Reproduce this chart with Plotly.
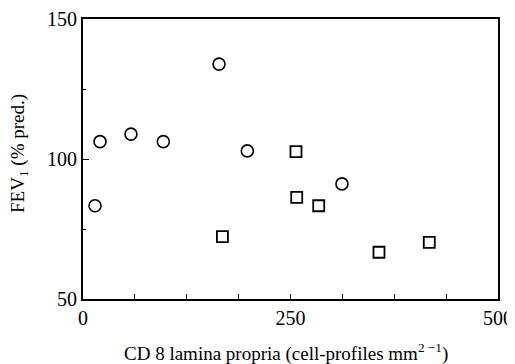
import plotly.graph_objects as go

circle_x = [14.5, 20.5, 57.8, 96.8, 163.9, 198, 312]
circle_y = [83.3, 106.2, 108.9, 106.2, 133.9, 102.9, 91.1]
square_x = [168, 256.6, 257.5, 284, 356.6, 417.2]
square_y = [72.3, 102.6, 86.3, 83.3, 66.7, 70.2]

x_ticks = [0, 250, 500]
y_ticks = [50, 100, 150]

x_title = "CD 8 lamina propria (cell-profiles mm<sup>2 −1</sup>)"
y_title = "FEV<sub>1</sub> (% pred.)"

fig = go.Figure()
fig.add_trace(go.Scatter(x=circle_x, y=circle_y, mode="markers",
                         marker=dict(symbol="circle-open", size=12, color="black",
                                     line=dict(width=1.6, color="black")),
                         showlegend=False, cliponaxis=False))
fig.add_trace(go.Scatter(x=square_x, y=square_y, mode="markers",
                         marker=dict(symbol="square-open", size=11, color="black",
                                     line=dict(width=1.8, color="black")),
                         showlegend=False, cliponaxis=False))

font = dict(family="Liberation Serif, Times New Roman, serif", color="black")

# page body has an 8px margin; compensate so the plot lands where the reference has it
OFF = 8
W, H = 515, 364 - OFF
L, T = 83 - OFF, 19 - OFF
R = W - L - (498 - 83)
B = H - T - (299 - 19)
pw, ph = W - L - R, H - T - B

def px_x(x):
    return (x - OFF - L) / pw

def px_y(y):
    return 1 - (y - OFF - T) / ph

fig.update_layout(
    width=W, height=H,
    margin=dict(l=L, r=R, t=T, b=B, autoexpand=False),
    paper_bgcolor="white", plot_bgcolor="white",
    font=dict(**font, size=20),
    xaxis=dict(range=[0, 500], tickvals=x_ticks, ticktext=[str(v) for v in x_ticks],
               ticks="inside", ticklen=5, tickwidth=1.2, tickcolor="black",
               showline=True, linecolor="black", linewidth=2, mirror=True,
               showgrid=False, zeroline=False, automargin=False,
               ticklabeloverflow="allow",
               minor=dict(dtick=62.5, tick0=0, ticks="inside", ticklen=5, tickwidth=1.2,
                          tickcolor="black", showgrid=False),
               tickfont=dict(**font, size=20)),
    yaxis=dict(range=[50, 150], tickvals=y_ticks, ticktext=[str(v) for v in y_ticks],
               ticks="inside", ticklen=6, tickwidth=1.2, tickcolor="black",
               showline=True, linecolor="black", linewidth=2, mirror=True,
               showgrid=False, zeroline=False, automargin=False,
               minor=dict(dtick=25, tick0=50, ticks="inside", ticklen=3, tickwidth=1.2,
                          tickcolor="black", showgrid=False),
               tickfont=dict(**font, size=20)),
    annotations=[
        dict(text=x_title, xref="paper", yref="paper",
             x=px_x(285.5), y=px_y(352),
             xanchor="center", yanchor="middle", showarrow=False,
             font=dict(**font, size=19)),
        dict(text=y_title, xref="paper", yref="paper",
             x=px_x(19), y=px_y(154), textangle=-90,
             xanchor="center", yanchor="middle", showarrow=False,
             font=dict(**font, size=19)),
    ],
)

fig.write_html("out.html")
